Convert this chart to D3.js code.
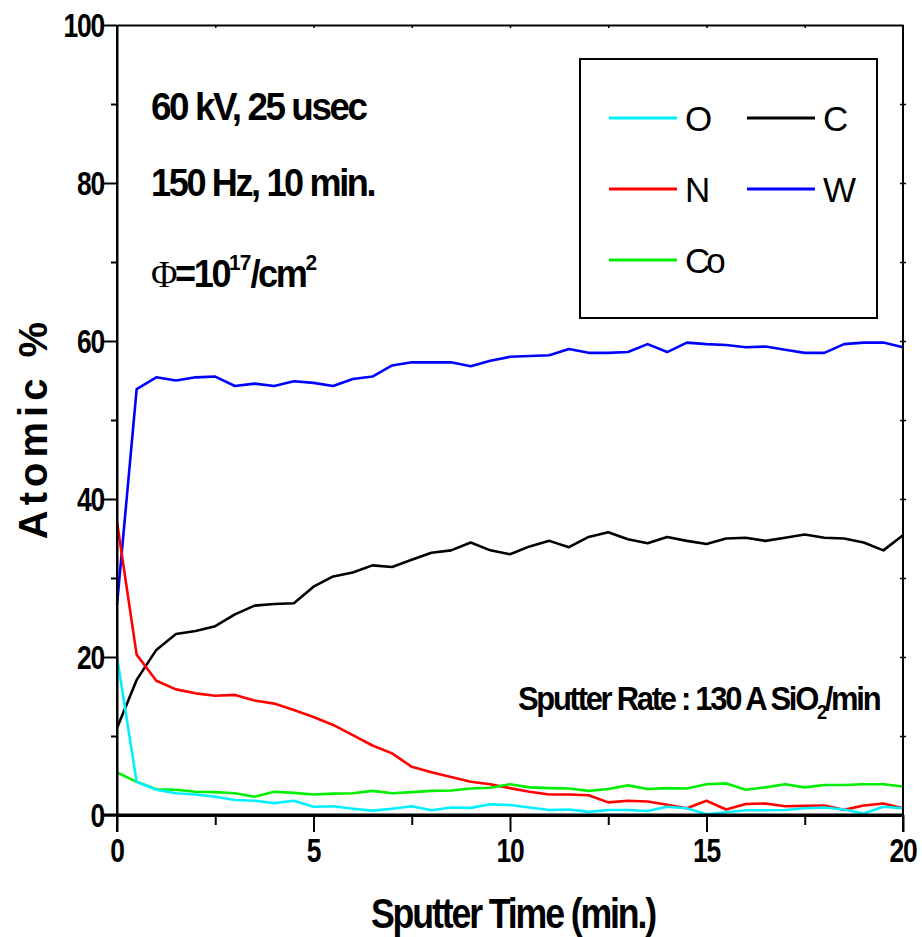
<!DOCTYPE html>
<html>
<head>
<meta charset="utf-8">
<script src="https://cdn.jsdelivr.net/npm/d3@7"></script>
<style>
  body { margin: 0; background: #fff; }
  svg text { font-family: "Liberation Sans", Arial, sans-serif; }
</style>
</head>
<body>
<script>
// sputter time (min.)
const time = [0, 0.5, 1, 1.5, 2, 2.5, 3, 3.5, 4, 4.5, 5, 5.5, 6, 6.5, 7, 7.5, 8, 8.5, 9, 9.5,
  10, 10.5, 11, 11.5, 12, 12.5, 13, 13.5, 14, 14.5, 15, 15.5, 16, 16.5, 17, 17.5, 18, 18.5, 19, 19.5, 20];

// atomic % per element
const valO = [20.0, 4.2, 3.2, 2.75, 2.6, 2.3, 1.9, 1.8, 1.5, 1.8, 1.05, 1.1, 0.8, 0.55, 0.8, 1.1, 0.6, 0.95, 0.9, 1.35,
  1.27, 0.95, 0.63, 0.7, 0.4, 0.63, 0.63, 0.5, 1.05, 0.85, 0.1, 0.35, 0.6, 0.6, 0.63, 0.85, 0.95, 0.7, 0.2, 1.05, 0.85];
const valC = [11.0, 17.1, 20.9, 22.9, 23.3, 23.9, 25.4, 26.5, 26.7, 26.8, 28.9, 30.2, 30.7, 31.6, 31.4, 32.3, 33.2, 33.5, 34.5, 33.5,
  33.0, 34.0, 34.7, 33.9, 35.2, 35.8, 34.9, 34.4, 35.2, 34.7, 34.3, 35.0, 35.1, 34.7, 35.1, 35.5, 35.1, 35.0, 34.5, 33.5, 35.4];
const valN = [37.1, 20.3, 17.0, 15.9, 15.4, 15.1, 15.2, 14.5, 14.1, 13.3, 12.4, 11.4, 10.1, 8.8, 7.8, 6.1, 5.4, 4.8, 4.2, 3.9,
  3.4, 2.95, 2.6, 2.6, 2.5, 1.6, 1.8, 1.7, 1.3, 0.85, 1.8, 0.7, 1.4, 1.45, 1.1, 1.15, 1.2, 0.65, 1.2, 1.45, 0.85];
const valW = [26.6, 53.9, 55.4, 55.0, 55.4, 55.5, 54.3, 54.6, 54.3, 54.9, 54.7, 54.3, 55.2, 55.5, 56.9, 57.3, 57.3, 57.3, 56.8, 57.5,
  58.0, 58.1, 58.2, 59.0, 58.5, 58.5, 58.6, 59.6, 58.6, 59.8, 59.6, 59.5, 59.2, 59.3, 58.9, 58.5, 58.5, 59.6, 59.8, 59.8, 59.2];
const valCo = [5.4, 4.2, 3.25, 3.2, 2.95, 2.9, 2.75, 2.3, 2.95, 2.8, 2.6, 2.7, 2.75, 3.05, 2.75, 2.9, 3.05, 3.1, 3.35, 3.45,
  3.9, 3.5, 3.4, 3.35, 3.05, 3.3, 3.75, 3.3, 3.4, 3.35, 3.9, 4.0, 3.2, 3.5, 3.9, 3.5, 3.8, 3.8, 3.9, 3.9, 3.6];

const seriesNames = ["O", "C", "N", "W", "Co"];
const seriesColors = ["#00f0ff", "#000000", "#ff0000", "#0000ff", "#00ee00"];
const seriesValues = [valO, valC, valN, valW, valCo];

const xTicks = [0, 5, 10, 15, 20];
const yTicks = [0, 20, 40, 60, 80, 100];

// layout
const margin = {top: 25, right: 19, bottom: 122, left: 117};
const W = 922, H = 937;
const width = W - margin.left - margin.right;
const height = H - margin.top - margin.bottom;

const svg = d3.select("body").append("svg")
  .attr("width", W)
  .attr("height", H);
const g = svg.append("g")
  .attr("transform", "translate(" + margin.left + "," + margin.top + ")");

const x = d3.scaleLinear().domain([0, 20]).range([0, width]);
const y = d3.scaleLinear().domain([0, 100]).range([height, 0]);

// data lines
const line = d3.line()
  .x((d, i) => x(time[i]))
  .y(d => y(d));
const drawOrder = [1, 3, 2, 4, 0];
drawOrder.forEach(k => {
  g.append("path")
    .datum(seriesValues[k])
    .attr("fill", "none")
    .attr("stroke", seriesColors[k])
    .attr("stroke-width", 2.6)
    .attr("stroke-linejoin", "round")
    .attr("d", line);
});

// axes: minor + major ticks
function styleAxis(sel, w) {
  sel.select(".domain").attr("stroke", "#000").attr("stroke-width", w);
  sel.selectAll(".tick line").attr("stroke", "#000").attr("stroke-width", 2);
  sel.selectAll(".tick text").remove();
}
const xMinor = d3.range(2.5, 20, 5);
const yMinor = d3.range(10, 100, 20);

g.append("g").attr("transform", "translate(0," + height + ")")
  .call(d3.axisBottom(x).tickValues(xMinor).tickSize(10).tickSizeOuter(0))
  .call(s => styleAxis(s, 3));
g.append("g").attr("transform", "translate(0," + height + ")")
  .call(d3.axisBottom(x).tickValues(xTicks).tickSize(17).tickSizeOuter(0))
  .call(s => styleAxis(s, 3))
  .call(s => s.select(".domain").attr("d", "M-13,0H" + width));
g.append("g")
  .call(d3.axisLeft(y).tickValues(yMinor).tickSize(6).tickSizeOuter(0))
  .call(s => styleAxis(s, 2));
g.append("g")
  .call(d3.axisLeft(y).tickValues(yTicks).tickSize(13).tickSizeOuter(0))
  .call(s => styleAxis(s, 2))
  .call(s => s.select(".domain").attr("d", "M0,0V" + (height + 17)));
// top and right frame with tiny ticks
g.append("g")
  .call(d3.axisTop(x).tickValues(d3.range(2.5, 20, 2.5)).tickSize(-3).tickSizeOuter(0))
  .call(s => styleAxis(s, 2))
  .call(s => s.selectAll(".tick line").attr("stroke-width", 1.5));
g.append("g").attr("transform", "translate(" + width + ",0)")
  .call(d3.axisRight(y).tickValues(d3.range(10, 100, 10)).tickSize(3).tickSizeOuter(0))
  .call(s => styleAxis(s, 2))
  .call(s => s.selectAll(".tick line").attr("x1", -3).attr("stroke-width", 1.5))
  .call(s => s.select(".domain").attr("d", "M0,0V" + (height + 17)));

// tick labels (bold, condensed)
g.selectAll(".xlab").data(xTicks).enter().append("text")
  .attr("class", "xlab")
  .attr("transform", d => "translate(" + x(d) + "," + (height + 47) + ") scale(0.8,1)")
  .attr("text-anchor", "middle")
  .attr("font-size", 33).attr("font-weight", "bold")
  .attr("letter-spacing", -1.5)
  .text(d => d);
g.selectAll(".ylab").data(yTicks).enter().append("text")
  .attr("class", "ylab")
  .attr("transform", d => "translate(-13," + (y(d) + 12) + ") scale(0.8,1)")
  .attr("text-anchor", "end")
  .attr("font-size", 33).attr("font-weight", "bold")
  .attr("letter-spacing", -1.5)
  .text(d => d);

// axis titles
svg.append("text")
  .attr("transform", "translate(513,928) scale(0.85,1)")
  .attr("text-anchor", "middle")
  .attr("font-size", 42).attr("font-weight", "bold")
  .attr("letter-spacing", -2.5)
  .text("Sputter Time (min.)");
svg.append("text")
  .attr("transform", "translate(47,428) rotate(-90)")
  .attr("text-anchor", "middle")
  .attr("font-size", 40).attr("font-weight", "bold")
  .attr("letter-spacing", 5)
  .text("Atomic %");

// conditions
const cond = svg.append("g").attr("font-weight", "bold").attr("font-size", 38).attr("letter-spacing", -2.5);
cond.append("text").attr("transform", "translate(151,120) scale(0.97,1)").text("60 kV, 25 usec");
cond.append("text").attr("transform", "translate(151,196) scale(0.95,1)").text("150 Hz, 10 min.");
const phi = cond.append("text").attr("transform", "translate(151,287) scale(0.95,1)");
phi.append("tspan").attr("font-family", "Liberation Serif, serif").attr("font-weight", "normal").text("Φ");
phi.append("tspan").text("=10");
phi.append("tspan").attr("font-size", 22).attr("letter-spacing", -1).attr("dy", -17).text("17");
phi.append("tspan").attr("dy", 17).text("/cm");
phi.append("tspan").attr("font-size", 22).attr("dy", -17).text("2");

const rate = svg.append("text")
  .attr("transform", "translate(518,710) scale(0.91,1)")
  .attr("font-weight", "bold").attr("font-size", 34)
  .attr("letter-spacing", -2.5);
rate.append("tspan").text("Sputter Rate : 130 A SiO");
rate.append("tspan").attr("font-size", 20).attr("dy", 9).text("2");
rate.append("tspan").attr("dy", -9).text("/min");

// legend
const legend = svg.append("g").attr("transform", "translate(580,59)");
legend.append("rect")
  .attr("width", 297).attr("height", 259)
  .attr("fill", "#fff").attr("stroke", "#000").attr("stroke-width", 2);
const legendPos = [[29, 59], [167, 59], [29, 130], [167, 130], [29, 201]];
seriesNames.forEach((name, k) => {
  const p = legendPos[k];
  const it = legend.append("g").attr("transform", "translate(" + p[0] + "," + p[1] + ")");
  it.append("line").attr("x1", 0).attr("x2", 68)
    .attr("stroke", seriesColors[k]).attr("stroke-width", 3);
  it.append("text").attr("x", 76).attr("y", 13)
    .attr("font-size", 35)
    .attr("letter-spacing", name === "Co" ? -4 : 0)
    .text(name);
});
</script>
</body>
</html>
